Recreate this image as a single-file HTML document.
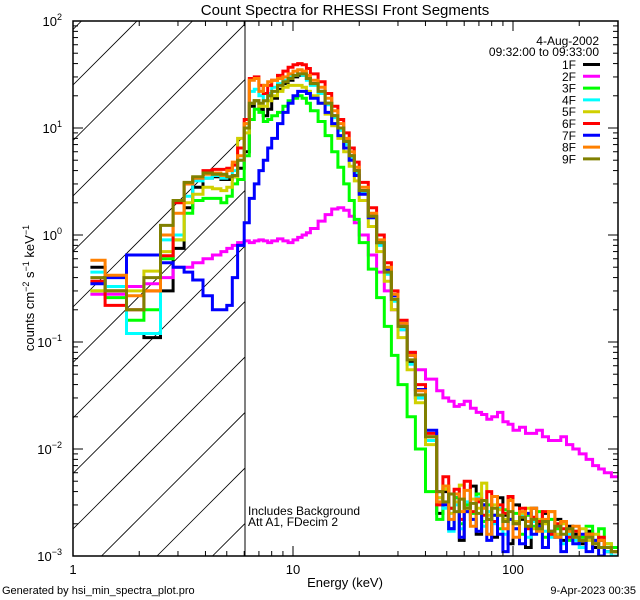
<!DOCTYPE html>
<html><head><meta charset="utf-8"><style>
html,body{margin:0;padding:0;background:#fff;overflow:hidden;width:640px;height:600px;}
svg{display:block;font-family:"Liberation Sans",sans-serif;}
</style></head><body>
<svg id="chart" width="640" height="600" viewBox="0 0 640 600" xmlns="http://www.w3.org/2000/svg">
<rect width="640" height="600" fill="#fff"/>
<text x="345" y="15" font-size="15" text-anchor="middle">Count Spectra for RHESSI Front Segments</text>
<defs><clipPath id="plotclip"><rect x="73" y="21" width="545" height="535"/></clipPath>
<clipPath id="hatchclip"><rect x="73" y="21" width="172" height="535"/></clipPath></defs>
<g id="hatch" clip-path="url(#hatchclip)"></g>
<line x1="245" y1="21" x2="245" y2="556" stroke="#000" stroke-width="1"/>
<g id="series" clip-path="url(#plotclip)"></g>
<rect x="73" y="21" width="545" height="535" fill="none" stroke="#000" stroke-width="1.5"/>
<g id="ticks"></g>
<text x="345" y="587" font-size="13" text-anchor="middle">Energy (keV)</text>
<text transform="translate(34,288) rotate(-90)" font-size="13" text-anchor="middle">counts cm<tspan font-size="9" dy="-5">−2</tspan><tspan dy="5"> s</tspan><tspan font-size="9" dy="-5">−1</tspan><tspan dy="5"> keV</tspan><tspan font-size="9" dy="-5">−1</tspan></text>
<text x="248" y="515" font-size="12">Includes Background</text>
<text x="248" y="526" font-size="12">Att A1, FDecim 2</text>
<text x="599" y="45" font-size="12" text-anchor="end">4-Aug-2002</text>
<text x="599" y="56" font-size="12" text-anchor="end">09:32:00 to 09:33:00</text>
<g id="legend"></g>
<text x="2" y="594" font-size="11">Generated by hsi_min_spectra_plot.pro</text>
<text x="636" y="594" font-size="11" text-anchor="end">9-Apr-2023 00:35</text>
</svg>
<script>
const edges=[1.2,1.4,1.75,2.1,2.5,2.85,3.2,3.5,3.9,4.3,4.7,5.0,5.3,5.6,6.0,6.33,6.67,7,7.33,7.67,8,8.5,9,9.5,10,10.5,11,11.5,12,13,14,15,16,17,18,19,20,22,24,26,28,30,33,36,40,45,48,51,54,57,60,64,68,72,76,80,85,90,95,100,107,114,121,128,136,145,155,165,175,187,200,215,230,245,260,280,300];
const seriesNames=["1F","2F","3F","4F","5F","6F","7F","8F","9F"];
const seriesColors=["#000000","#ff00ff","#00ff00","#00ffff","#d0d000","#ff0000","#0000ff","#ff8000","#808000"];
const s1F=[0.5,0.3,0.12,0.11,0.3,0.75,1.8,2.8,3.4,3.5,3.3,3.3,3.5,4.2, 6,16,18,15,13,15,19,23,26,28,30,31,31,29, 26,22,17,13,10,7.5,5.5,4,2.6,1.5,0.85,0.45,0.25,0.14,0.065,0.03,0.012,
 0.0025,0.004,0.0018,0.0035,0.0014,0.003,0.0045,0.0016,0.003,0.0022,0.0015,0.0035,0.0024,0.0013,0.003,0.0022,0.0012,0.0028,0.002,0.0025,0.0016,0.0022,0.0014,0.0019,0.0016,0.0013,0.0017,0.0012,0.0014,0.0011,0.001];
const s2F=[0.28,0.28,0.33,0.35,0.4,0.5,0.5,0.55,0.6,0.65,0.7,0.75,0.8,0.85, 0.88,0.85,0.88,0.9,0.88,0.85,0.88,0.92,0.88,0.85,0.9,0.95,1.0,1.05, 1.15,1.35,1.55,1.75,1.8,1.7,1.5,1.3,1.0,0.65,0.45,0.3,0.2,0.13,0.08,0.055,0.045,
 0.035,0.03,0.028,0.025,0.026,0.028,0.024,0.022,0.021,0.019,0.02,0.022,0.018,0.017,0.015,0.016,0.014,0.014,0.015,0.013,0.012,0.012,0.013,0.011,0.01,0.009,0.008,0.007,0.0065,0.006,0.0055];
const s3F=[0.3,0.26,0.16,0.2,0.6,0.9,1.6,2.1,2.2,2.2,2.0,2.3,3.0,3.3, 5.5,12,15,14,11.5,12,13,14,16,18,19,20,19,17, 14.5,11.5,8.5,6,4.3,3,2.1,1.4,0.85,0.48,0.26,0.14,0.075,0.04,0.02,0.01,0.004,
 0.0022,0.0045,0.0028,0.0035,0.002,0.003,0.0025,0.0038,0.0021,0.003,0.0024,0.0018,0.0027,0.0022,0.0025,0.0016,0.0024,0.0019,0.0026,0.0015,0.0022,0.0018,0.0021,0.0014,0.0017,0.0015,0.0019,0.0014,0.0018,0.0013,0.0012];
const s4F=[0.45,0.33,0.12,0.12,0.9,1.0,2.3,3.2,3.4,3.6,3.4,3.5,4.0,5.0, 11,22,23,20,18,21,24,26,28,30,31,32,31,28, 25,21,16.5,12.5,9.5,7,5.2,3.8,2.5,1.45,0.8,0.43,0.24,0.13,0.062,0.03,0.012,
 0.0035,0.0028,0.0017,0.003,0.0018,0.0032,0.0022,0.0035,0.0019,0.0026,0.002,0.0028,0.0016,0.0034,0.0018,0.0024,0.0015,0.0021,0.0018,0.0017,0.0015,0.0019,0.0013,0.0016,0.0014,0.0012,0.0015,0.0013,0.0012,0.0011,0.001];
const s5F=[0.3,0.3,0.3,0.46,0.7,0.9,2.0,2.4,2.8,2.7,2.6,2.8,3.5,8, 9,17,18,16,16,18,20,22,24,25,25,25,24,22, 20,17,13.5,10.5,8,6,4.4,3.2,2.1,1.2,0.7,0.37,0.2,0.11,0.055,0.027,0.011,
 0.0035,0.0042,0.0025,0.0032,0.0046,0.0026,0.0034,0.0028,0.0048,0.0024,0.003,0.0027,0.0022,0.0035,0.0021,0.0025,0.0028,0.0018,0.0022,0.002,0.0026,0.0016,0.002,0.0017,0.0015,0.0018,0.0014,0.0016,0.0012,0.0013,0.0011];
const s6F=[0.37,0.22,0.2,0.3,0.64,2.0,3.0,3.4,4.0,4.1,4.1,4.2,4.5,6.5, 12,29,30,25,21,25,28,31,34,37,39,40,39,36, 32,27,21,16,12,9,6.5,4.8,3.1,1.8,1.0,0.55,0.3,0.16,0.08,0.04,0.014,
 0.003,0.0055,0.0028,0.0042,0.0022,0.005,0.0026,0.0032,0.0024,0.004,0.0021,0.003,0.0025,0.0036,0.002,0.0028,0.0018,0.0023,0.0021,0.0026,0.0016,0.002,0.0018,0.0015,0.0017,0.0014,0.0016,0.0013,0.0015,0.0012,0.0011];
const s7F=[0.35,0.4,0.65,0.65,0.55,0.5,0.45,0.38,0.27,0.2,0.2,0.22,0.4,0.8, 1.3,2.2,3,4,5,6.5,8,11,14,17,20,22,22,21, 19,17,14,11,8.5,6.5,5,3.6,2.4,1.45,0.85,0.47,0.27,0.15,0.075,0.036,0.015,
 0.004,0.003,0.0018,0.0038,0.0015,0.0026,0.0022,0.0017,0.003,0.0014,0.0024,0.0016,0.0011,0.0022,0.0018,0.0013,0.0025,0.0016,0.0019,0.0012,0.0017,0.0015,0.0011,0.0018,0.0013,0.0016,0.0011,0.0014,0.001,0.0012,0.0011];
const s8F=[0.58,0.42,0.27,0.3,1.0,1.6,3.0,3.4,3.7,3.8,3.6,4.0,4.8,5.5, 11,28,29,22,25,27,28,29,30,32,34,35,34,31, 28,24,19,14.5,11,8,6,4.3,2.8,1.6,0.9,0.5,0.28,0.15,0.075,0.035,0.013,
 0.0032,0.0045,0.0022,0.0038,0.0026,0.0041,0.0019,0.0034,0.0028,0.0016,0.0036,0.0024,0.0018,0.0033,0.0015,0.0026,0.0021,0.0028,0.0017,0.0022,0.0026,0.0015,0.0021,0.0017,0.0019,0.0014,0.0016,0.0013,0.0014,0.0012,0.0011];
const s9F=[0.4,0.3,0.2,0.4,1.23,2.1,3.1,3.5,3.8,3.7,3.7,3.5,3.6,5.0, 10,17,18,17,18,20,22,25,27,29,31,32,32,29, 26,22,17,13,10,7.5,5.5,4,2.6,1.5,0.85,0.45,0.25,0.14,0.068,0.032,0.013,
 0.004,0.0032,0.0038,0.0026,0.0034,0.0028,0.0031,0.0025,0.0033,0.0022,0.0028,0.0024,0.0021,0.0026,0.002,0.0023,0.0019,0.0022,0.0018,0.0021,0.0017,0.0019,0.0016,0.0018,0.0015,0.0014,0.0015,0.0013,0.0012,0.0012,0.0011];
const seriesValues=[s1F,s2F,s3F,s4F,s5F,s6F,s7F,s8F,s9F];
const xTickLabels=["1","10","100"];
const yTickExps=[-3,-2,-1,0,1,2];

const NS="http://www.w3.org/2000/svg";
const X0=73,X1=618,Y0=21,Y1=556,XDEC=220,YDEC=107;
function xs(e){return X0+Math.log10(e)*XDEC;}
function ys(v){return Y0+(2-Math.log10(v))*YDEC;}
function mk(tag,attrs,parent){const el=document.createElementNS(NS,tag);for(const k in attrs)el.setAttribute(k,attrs[k]);parent.appendChild(el);return el;}

const hatch=document.getElementById('hatch');
for(let k=-12;k<14;k++){
  const yl=85+k*55.5;
  const l=mk('line',{x1:X0,y1:yl,x2:X0+600,y2:yl-600,stroke:'#000','stroke-width':0.8},hatch);
  
  
}

const sg=document.getElementById('series');
seriesValues.forEach((vals,si)=>{
  let d='';
  const n=Math.min(vals.length,edges.length-1);
  for(let i=0;i<n;i++){
    const xa=xs(edges[i]).toFixed(1),xb=xs(edges[i+1]).toFixed(1),y=ys(vals[i]).toFixed(1);
    d+=(i===0?'M'+xa+','+y:'L'+xa+','+y)+'L'+xb+','+y;
  }
  const p=mk('path',{d:d,fill:'none',stroke:seriesColors[si],'stroke-width':3,'stroke-linejoin':'miter'},sg);
  
  
});

const tg=document.getElementById('ticks');
function tk(x1,y1,x2,y2,name){const l=mk('line',{x1:x1,y1:y1,x2:x2,y2:y2,stroke:'#000','stroke-width':1},tg);
  
  }
for(let dec=0;dec<3;dec++){
  for(let m=1;m<10;m++){
    const e=Math.pow(10,dec)*m; if(e>307)break;
    const x=xs(e), len=(m===1)?10:5;
    tk(x,Y1,x,Y1-len,'x-tick');
    tk(x,Y0,x,Y0+len,'x-tick-top');
  }
}
xTickLabels.forEach((lab,i)=>{
  const t=mk('text',{x:xs(Math.pow(10,i)),y:574,'font-size':13,'text-anchor':'middle'},tg);
  t.textContent=lab;
  
  
});
for(let ex=-3;ex<2;ex++){
  for(let m=1;m<10;m++){
    const v=Math.pow(10,ex)*m, y=ys(v), len=(m===1)?10:5;
    tk(X0,y,X0+len,y,'y-tick');
    tk(X1,y,X1-len,y,'y-tick-right');
  }
}
tk(X0,Y0,X0+10,Y0,'y-tick');tk(X1,Y0,X1-10,Y0,'y-tick-right');
yTickExps.forEach(ex=>{
  const t=mk('text',{x:62,y:ys(Math.pow(10,ex))+5,'font-size':13,'text-anchor':'end'},tg);
  t.textContent='10';
  const s=mk('tspan',{'font-size':9,dy:-6},t);
  s.textContent=(ex<0?'−':'')+Math.abs(ex);
  
  
});

const lg=document.getElementById('legend');
seriesNames.forEach((n,i)=>{
  const y=64.5+i*11.8;
  const g=mk('g',{},lg);
  
  
  const t=mk('text',{x:576,y:y+4.5,'font-size':12,'text-anchor':'end'},g);
  t.textContent=n;
  mk('line',{x1:583,y1:y,x2:600,y2:y,stroke:seriesColors[i],'stroke-width':3},g);
});
</script>
</body></html>
